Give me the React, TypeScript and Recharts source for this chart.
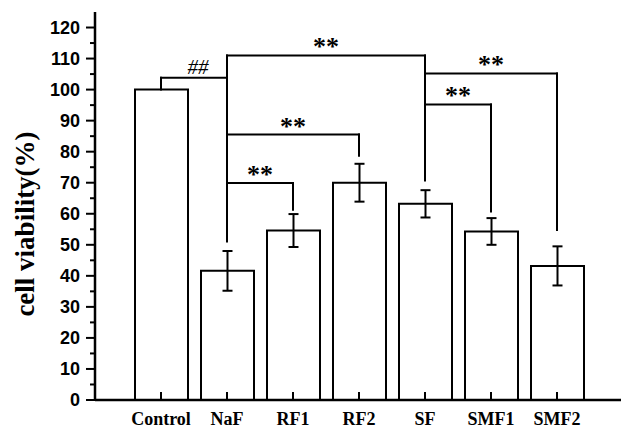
import React from 'react';
import { BarChart, Bar, XAxis, YAxis, ErrorBar, ReferenceLine } from 'recharts';

const categories = ['Control', 'NaF', 'RF1', 'RF2', 'SF', 'SMF1', 'SMF2'];
const viability = [100, 41.6, 54.6, 70, 63.2, 54.3, 43.2];
const errors = [0, 6.4, 5.3, 6.1, 4.4, 4.3, 6.3];
const yTicks = [0, 5, 10, 15, 20, 25, 30, 35, 40, 45, 50, 55, 60, 65, 70, 75, 80, 85, 90, 95, 100, 105, 110, 115, 120];
const yLabel = 'cell viability(%)';

// significance brackets (data values)
const bracketTops = [
  { from: 'Control', to: 'NaF', y: 103.8, text: '##' },
  { from: 'NaF', to: 'SF', y: 111, text: '**' },
  { from: 'NaF', to: 'RF2', y: 85.5, text: '**' },
  { from: 'NaF', to: 'RF1', y: 69.9, text: '**' },
  { from: 'SF', to: 'SMF2', y: 105.2, text: '**' },
  { from: 'SF', to: 'SMF1', y: 95.2, text: '**' },
];
const bracketLegs = [
  { at: 'Control', low: 100, high: 103.8 },
  { at: 'NaF', low: 51.1, high: 111 },
  { at: 'SF', low: 70.7, high: 111 },
  { at: 'RF2', low: 78.7, high: 85.5 },
  { at: 'RF1', low: 61.3, high: 69.9 },
  { at: 'SMF2', low: 54.8, high: 105.2 },
  { at: 'SMF1', low: 60.7, high: 95.2 },
];

const data = categories.map((name, i) => ({ name, value: viability[i], err: errors[i] }));

const YTick = (props: any) => {
  const { x, y, payload } = props;
  const major = payload.value % 10 === 0;
  return (
    <g>
      <line x1={x - (major ? 9 : 5)} x2={x} y1={y} y2={y} stroke="#000" strokeWidth={2} />
      {major && (
        <text x={x - 15} y={y} dy="0.36em" textAnchor="end" fontFamily="'Liberation Sans', Arial, sans-serif" fontWeight="bold" fontSize={18} fill="#000">
          {payload.value}
        </text>
      )}
    </g>
  );
};

const XTick = (props: any) => {
  const { x, y, payload } = props;
  return (
    <g>
      <line x1={x} x2={x} y1={y - 8} y2={y} stroke="#000" strokeWidth={2} />
      <text x={x} y={y + 25} textAnchor="middle" fontFamily="'Liberation Serif', 'Times New Roman', serif" fontWeight="bold" fontSize={18} fill="#000">
        {payload.value}
      </text>
    </g>
  );
};

const YLabel = (props: any) => {
  const vb = props.viewBox || { x: 0, y: 12, width: 95, height: 388 };
  const cx = vb.x + 34;
  const cy = vb.y + vb.height / 2 + 18;
  return (
    <text x={cx} y={cy} transform={`rotate(-90, ${cx}, ${cy})`} textAnchor="middle" fontFamily="'Liberation Serif', 'Times New Roman', serif" fontWeight="bold" fontSize={27} fill="#000">
      {yLabel}
    </text>
  );
};

export default function App() {
  return (
    <div style={{ position: 'absolute', left: 0, top: 0, width: 621, height: 432, background: '#fff' }}>
      <BarChart width={621} height={432} data={data} margin={{ top: 12, right: 0, bottom: 0, left: 0 }} barSize={53}>
        <XAxis
          dataKey="name"
          height={32}
          padding={{ left: 33, right: 31 }}
          interval={0}
          tickLine={false}
          tickSize={0}
          tickMargin={0}
          axisLine={{ stroke: '#000', strokeWidth: 2.5 }}
          tick={(p: any) => <XTick {...p} />}
        />
        <YAxis
          type="number"
          width={95}
          domain={[0, 125]}
          ticks={yTicks}
          interval={0}
          allowDataOverflow
          tickLine={false}
          tickSize={0}
          tickMargin={0}
          axisLine={{ stroke: '#000', strokeWidth: 2.5 }}
          tick={(p: any) => <YTick {...p} />}
          label={{ content: (p: any) => <YLabel {...p} /> }}
        />
        <Bar dataKey="value" fill="#fff" stroke="#000" strokeWidth={2} isAnimationActive={false}>
          <ErrorBar dataKey="err" width={5} stroke="#000" strokeWidth={2} isAnimationActive={false} />
        </Bar>
        {bracketLegs.map((l, i) => (
          <ReferenceLine
            key={'leg' + i}
            segment={[{ x: l.at, y: l.low }, { x: l.at, y: l.high }]}
            stroke="#000"
            strokeWidth={2}
            strokeLinecap="square"
            ifOverflow="visible"
          />
        ))}
        {bracketTops.map((b, i) => (
          <ReferenceLine
            key={'top' + i}
            segment={[{ x: b.from, y: b.y }, { x: b.to, y: b.y }]}
            stroke="#000"
            strokeWidth={2}
            strokeLinecap="square"
            ifOverflow="visible"
            label={{
              value: b.text,
              position: 'top',
              offset: b.text === '##' ? 4 : 0,
              dx: b.text === '##' ? 4 : 0,
              fill: '#000',
              stroke: 'none',
              fontSize: b.text === '##' ? 21 : 26,
              fontStyle: b.text === '##' ? 'italic' : 'normal',
              fontWeight: b.text === '##' ? 'normal' : 'bold',
              fontFamily: "'Liberation Serif', 'Times New Roman', serif",
            }}
          />
        ))}
      </BarChart>
    </div>
  );
}
